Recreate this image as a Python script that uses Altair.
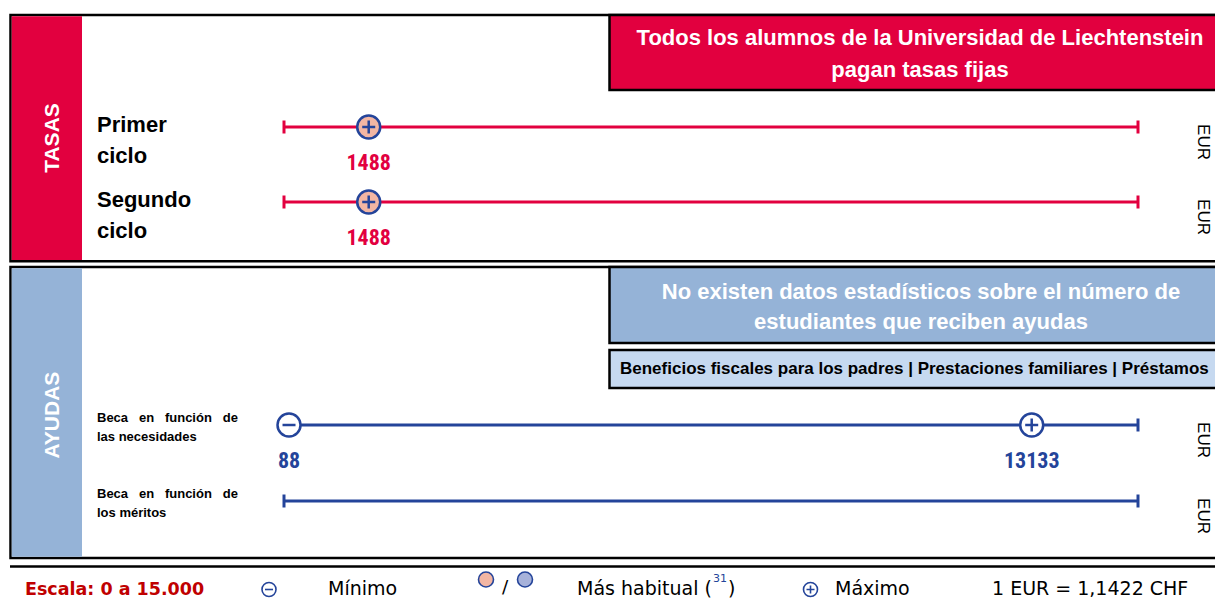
import altair as alt
import pandas as pd

# ---------------- data ----------------
sections = ["TASAS", "TASAS", "AYUDAS", "AYUDAS"]
row_labels = ["Primer\nciclo", "Segundo\nciclo",
              "Beca en función de\nlas necesidades",
              "Beca en función de\nlos méritos"]
min_values = [None, None, 88, None]
max_values = [1488, 1488, 13133, None]
habitual_values = [1488, 1488, None, None]
currency = ["EUR", "EUR", "EUR", "EUR"]
scale_min, scale_max = 0, 15000

tasas_note = "Todos los alumnos de la Universidad de Liechtenstein\npagan tasas fijas"
ayudas_note = "No existen datos estadísticos sobre el número de\nestudiantes que reciben ayudas"
ayudas_other = "Beneficios fiscales para los padres | Prestaciones familiares | Préstamos"

legend_scale = "Escala: 0 a 15.000"
legend_min = "Mínimo"
legend_hab = "Más habitual ("
legend_hab_note = "31"
legend_hab_close = ")"
legend_max = "Máximo"
legend_rate = "1 EUR = 1,1422 CHF"

# ---------------- styles ----------------
RED = "#E2003F"
BLUE = "#24449A"
SALMON = "#F3B6A3"
LAV = "#A7B2DA"
SIDEBLUE = "#95B3D7"
LIGHTBLUE = "#C6D9F0"
DARKRED = "#C00000"
SANS = "Liberation Sans"
WIDE = "DejaVu Sans"
NUMFONT = "Roboto Condensed, Liberation Sans Narrow, Roboto, sans-serif"

n = len(sections)

def justify(label):
    first, rest = label.split("\n")
    return first.replace(" ", "\u00a0\u00a0\u00a0") + "\n" + rest

rows = pd.DataFrame({
    "row": list(range(n)),
    "section": sections,
    "label": row_labels,
    "cur": currency,
    "start": [scale_min] * n,
    "end": [scale_max] * n,
})
rows["label_j"] = [justify(l) if s == "AYUDAS" else l for l, s in zip(row_labels, sections)]

markers = []
for i in range(n):
    if max_values[i] is not None:
        markers.append(dict(row=i, section=sections[i], value=max_values[i], kind="max",
                            habitual=bool(habitual_values[i] == max_values[i])))
    if min_values[i] is not None:
        markers.append(dict(row=i, section=sections[i], value=min_values[i], kind="min",
                            habitual=bool(habitual_values[i] == min_values[i])))
mk = pd.DataFrame(markers)

one = pd.DataFrame({"k": [0]})

xscale = alt.Scale(domain=[scale_min, scale_max], range=[276, 1130], nice=False, zero=False)
yscale = alt.Scale(domain=[0, 1, 2, 3], range=[119, 194, 417, 493], nice=False, zero=False)


def X(field):
    return alt.X(f"{field}:Q", scale=xscale, axis=None)


Y = alt.Y("row:Q", scale=yscale, axis=None)
sec_color = alt.Color("section:N", scale=alt.Scale(domain=["TASAS", "AYUDAS"], range=[RED, BLUE]),
                      legend=None)


def box(x, x2, y, y2, **kw):
    return alt.Chart(one).mark_rect(**kw).encode(
        x=alt.value(x), x2=alt.value(x2), y=alt.value(y), y2=alt.value(y2))


def txt(x, y, text, **kw):
    return alt.Chart(one).mark_text(text=text, **kw).encode(x=alt.value(x), y=alt.value(y))


def icon(x, y, shape, size, **kw):
    return alt.Chart(one).mark_point(shape=shape, size=size, opacity=1, **kw).encode(
        x=alt.value(x), y=alt.value(y))


layers = []
# panels
layers.append(box(2.5, 1240, 7, 253.3, fill="white", stroke="black", strokeWidth=2.5))
layers.append(box(2.5, 1240, 259, 550, fill="white", stroke="black", strokeWidth=2.5))
layers.append(box(3.75, 74, 8.25, 252, fill=RED))
layers.append(box(3.75, 74, 260.25, 548.75, fill=SIDEBLUE))
# note boxes
layers.append(box(601.5, 1240, 7, 82, fill=RED, stroke="black", strokeWidth=2.5))
layers.append(box(601.5, 1240, 259, 335, fill=SIDEBLUE, stroke="black", strokeWidth=2.5))
layers.append(box(601.5, 1240, 342, 380, fill=LIGHTBLUE, stroke="black", strokeWidth=2.5))
# footer rule
layers.append(alt.Chart(one).mark_rule(strokeWidth=2.5, color="black").encode(
    x=alt.value(2), x2=alt.value(1240), y=alt.value(558.5)))

# data lines
layers.append(alt.Chart(rows).mark_rule(strokeWidth=3).encode(
    x=X("start"), x2=alt.X2("end"), y=Y, color=sec_color))
layers.append(alt.Chart(rows).transform_fold(["start", "end"], as_=["k", "v"]).mark_tick(
    orient="vertical", thickness=3, size=13, opacity=1).encode(x=X("v"), y=Y, color=sec_color))
layers.append(alt.Chart(mk).mark_point(shape="circle", filled=True, size=529, stroke=BLUE,
                                       strokeWidth=2.5, opacity=1).encode(
    x=X("value"), y=Y,
    fill=alt.condition("datum.habitual", alt.value(SALMON), alt.value("white"))))
layers.append(alt.Chart(mk).transform_filter("datum.kind == 'max'").mark_point(
    shape="M-1,0H1M0,-1V1", filled=False, size=169, strokeWidth=2.5, color=BLUE, opacity=1).encode(
    x=X("value"), y=Y))
layers.append(alt.Chart(mk).transform_filter("datum.kind == 'min'").mark_point(
    shape="M-1,0H1", filled=False, size=169, strokeWidth=2.5, color=BLUE, opacity=1).encode(
    x=X("value"), y=Y))
layers.append(alt.Chart(mk).mark_text(font=NUMFONT, fontSize=22, fontWeight="bold",
                                      baseline="alphabetic", yOffset=43).encode(
    x=X("value"), y=Y, text=alt.Text("value:Q", format="d"), color=sec_color))

# row labels
layers.append(alt.Chart(rows).transform_filter("datum.section == 'TASAS'").mark_text(
    align="left", baseline="alphabetic", font=SANS, fontSize=22, fontWeight="bold",
    lineBreak="\n", lineHeight=31, yOffset=5, color="black").encode(
    x=alt.value(89), y=Y, text="label_j:N"))
layers.append(alt.Chart(rows).transform_filter("datum.section == 'AYUDAS'").mark_text(
    align="left", baseline="alphabetic", font=SANS, fontSize=13, fontWeight="bold",
    lineBreak="\n", lineHeight=19, yOffset=-3, color="black").encode(
    x=alt.value(89), y=Y, text="label_j:N"))
layers.append(alt.Chart(rows).mark_text(angle=90, font=SANS, fontSize=17, align="center",
                                        baseline="middle", yOffset=15, color="black").encode(
    x=alt.value(1195), y=Y, text="cur:N"))

# section titles and notes
layers.append(txt(45, 130, "TASAS", angle=270, fontSize=21, fontWeight="bold", color="white",
                  font=SANS, align="center", baseline="middle"))
layers.append(txt(45, 407, "AYUDAS", angle=270, fontSize=21, fontWeight="bold", color="white",
                  font=SANS, align="center", baseline="middle"))
layers.append(txt(912, 30, tasas_note, lineBreak="\n", lineHeight=32, fontSize=22, fontWeight="bold",
                  color="white", font=SANS, align="center", baseline="middle"))
layers.append(txt(913, 284, ayudas_note, lineBreak="\n", lineHeight=30, fontSize=22, fontWeight="bold",
                  color="white", font=SANS, align="center", baseline="middle"))
layers.append(txt(612, 361, ayudas_other, fontSize=17, fontWeight="bold", color="black",
                  font=SANS, align="left", baseline="middle"))

# footer legend
FB = 586.5  # footer baseline
foot = dict(font=WIDE, fontSize=19, color="black", align="left", baseline="alphabetic")
layers.append(txt(17, FB, legend_scale, font=WIDE, fontSize=17.5, fontWeight="bold", color=DARKRED,
                  align="left", baseline="alphabetic"))
layers.append(icon(261, FB - 5, "circle", 196, filled=True, fill="white", stroke=BLUE, strokeWidth=1.6))
layers.append(icon(261, FB - 5, "M-1,0H1", 64, filled=False, color=BLUE, strokeWidth=1.6))
layers.append(txt(320, FB, legend_min, **foot))
layers.append(icon(478, FB - 15, "circle", 225, filled=True, fill=SALMON, stroke=BLUE, strokeWidth=1.6))
layers.append(txt(497, FB - 2, "/", font=WIDE, fontSize=18.5, color="black", align="center",
                  baseline="alphabetic"))
layers.append(icon(517, FB - 15, "circle", 225, filled=True, fill=LAV, stroke=BLUE, strokeWidth=1.6))
layers.append(txt(569, FB, legend_hab, **foot))
layers.append(txt(705, FB - 13, legend_hab_note, font=WIDE, fontSize=11, color=BLUE, align="left",
                  baseline="alphabetic"))
layers.append(txt(720, FB, legend_hab_close, **foot))
layers.append(icon(802.5, FB - 5, "circle", 196, filled=True, fill="white", stroke=BLUE, strokeWidth=1.6))
layers.append(icon(802.5, FB - 5, "M-1,0H1M0,-1V1", 64, filled=False, color=BLUE, strokeWidth=1.6))
layers.append(txt(827, FB, legend_max, **foot))
layers.append(txt(984, FB, legend_rate, **foot))

chart = alt.layer(*layers).properties(
    width=1207, height=592, padding=0, autosize="none", background="white"
).configure_view(strokeWidth=0)

chart.save("out.html", embed_options={"renderer": "svg", "actions": False})
